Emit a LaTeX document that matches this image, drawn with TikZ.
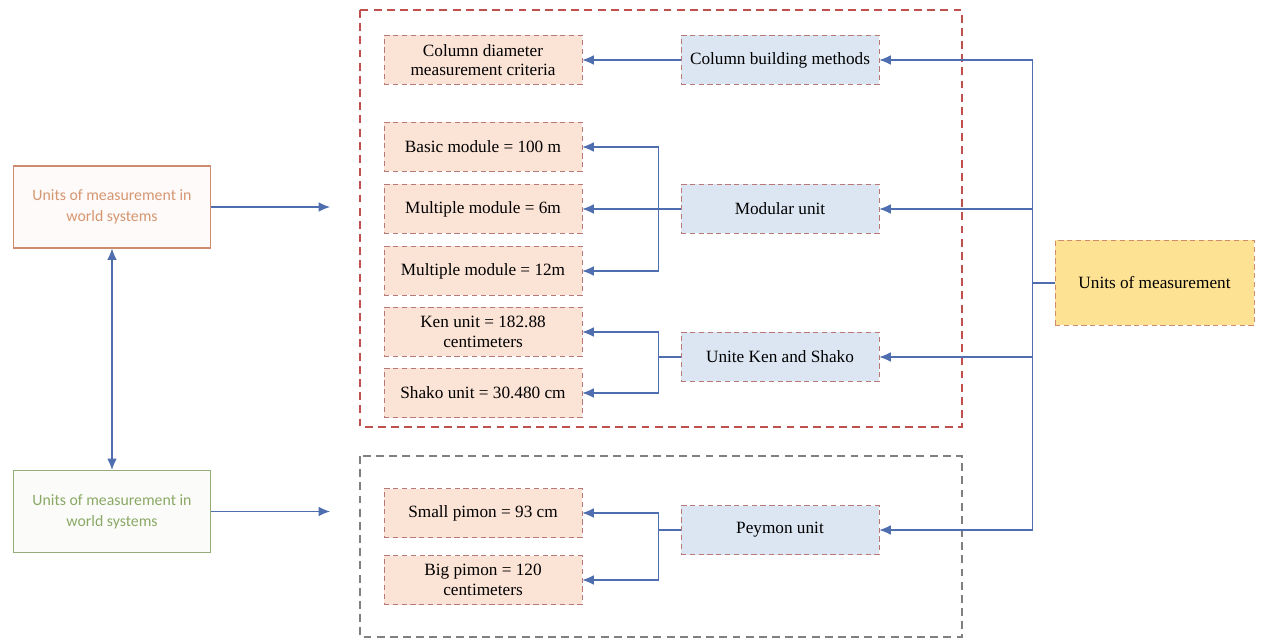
\documentclass[tikz,border=0pt]{standalone}
\usepackage{fontspec}
\setmainfont{Liberation Serif}
\newfontfamily\calfont{Carlito}
\usetikzlibrary{arrows.meta}

\definecolor{linkblue}{RGB}{79,110,175}
\definecolor{peach}{RGB}{251,227,214}
\definecolor{paleblue}{RGB}{220,230,242}
\definecolor{gold}{RGB}{254,226,148}
\definecolor{dashred}{RGB}{192,80,77}
\definecolor{dashrose}{RGB}{185,120,120}
\definecolor{rust}{RGB}{205,140,110}
\definecolor{rusttext}{RGB}{214,150,112}
\definecolor{sage}{RGB}{150,172,122}
\definecolor{sagetext}{RGB}{138,168,100}

\tikzset{
  item/.style={draw=dashrose, dash pattern=on 3pt off 2pt, fill=peach, minimum width=3.96cm,
    minimum height=0.98cm, align=center, font=\fontsize{9.8}{11}\selectfont, inner sep=1pt},
  group/.style={item, fill=paleblue},
  frame/.style={dash pattern=on 4.5pt off 3pt, line width=0.6pt},
  link/.style={draw=linkblue, line width=0.6pt, -{Latex[length=6.5pt,width=5.5pt]}},
  world/.style={draw, line width=0.6pt, minimum width=3.94cm, minimum height=1.64cm,
    align=center, font=\calfont\fontsize{9}{12}\selectfont}
}

\begin{document}
\begin{tikzpicture}

\useasboundingbox (0,0) rectangle (25.22,-12.82);

% the two frames
\draw[frame, dashred] (7.2,-0.2) rectangle (19.24,-8.54);
\draw[frame, gray] (7.2,-9.12) rectangle (19.24,-12.74);

% left side
\node[world, draw=rust, fill=rust!4, text=rusttext] (wsysa) at (2.24,-4.14) {Units of measurement in\\world systems};
\node[world, draw=sage, fill=sage!4, text=sagetext] (wsysb) at (2.24,-10.23) {Units of measurement in\\world systems};
\coordinate (tipa) at (6.6,-4.14);
\coordinate (tipb) at (6.6,-10.23);

% items
\node[item] (diam) at (9.66,-1.2) {Column diameter\\measurement criteria};
\node[item] (basic) at (9.66,-2.94) {Basic module = 100 m};
\node[item] (mult6) at (9.66,-4.18) {Multiple module = 6m};
\node[item] (mult12) at (9.66,-5.42) {Multiple module = 12m};
\node[item] (ken) at (9.66,-6.64) {Ken unit = 182.88\\centimeters};
\node[item] (shako) at (9.66,-7.86) {Shako unit = 30.480 cm};
\node[item] (small) at (9.66,-10.26) {Small pimon = 93 cm};
\node[item] (big) at (9.66,-11.6) {Big pimon = 120\\centimeters};

% groups
\node[group] (column) at (15.6,-1.2) {Column building methods};
\node[group] (modular) at (15.6,-4.18) {Modular unit};
\node[group] (kenshako) at (15.6,-7.14) {Unite Ken and Shako};
\node[group] (peymon) at (15.6,-10.6) {Peymon unit};

\node[item, fill=gold, draw=rust, minimum width=3.98cm, minimum height=1.7cm] (units) at (23.09,-5.66) {Units of measurement};

% connectors
\draw[link] (wsysa.east) -- (tipa);
\draw[link] (wsysb.east) -- (tipb);
\draw[link, {Latex[length=6.5pt,width=5.5pt]}-{Latex[length=6.5pt,width=5.5pt]}] (wsysa.south) -- (wsysb.north);

\draw[link] (column.west) -- (diam.east);
\draw[link] (modular.west) -- ++(-0.44,0) |- (basic.east);
\draw[link] (modular.west) -- (mult6.east);
\draw[link] (modular.west) -- ++(-0.44,0) |- (mult12.east);
\draw[link] (kenshako.west) -- ++(-0.44,0) |- (ken.east);
\draw[link] (kenshako.west) -- ++(-0.44,0) |- (shako.east);
\draw[link] (peymon.west) -- ++(-0.44,0) |- (small.east);
\draw[link] (peymon.west) -- ++(-0.44,0) |- (big.east);

\draw[link] (units.west) -- ++(-0.44,0) |- (column.east);
\draw[link] (units.west) -- ++(-0.44,0) |- (modular.east);
\draw[link] (units.west) -- ++(-0.44,0) |- (kenshako.east);
\draw[link] (units.west) -- ++(-0.44,0) |- (peymon.east);
\draw[linkblue, line width=1.6pt] (units.west) -- ++(-0.44,0);

\end{tikzpicture}
\end{document}
